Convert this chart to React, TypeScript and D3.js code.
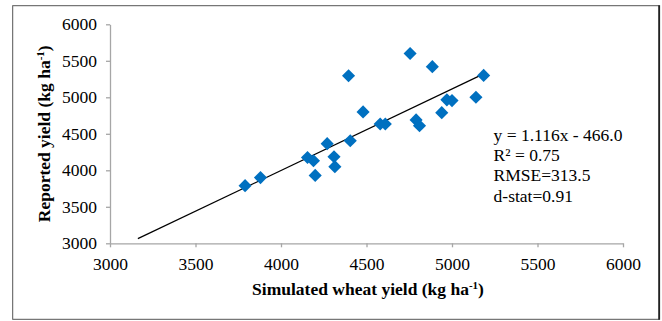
import React, { useRef, useEffect } from 'react'
import * as d3 from 'd3'

// Simulated (x) vs reported (y) wheat yield, kg/ha
const simulated = [
  3790, 3880, 4155, 4190, 4200, 4270, 4310, 4315, 4395, 4405, 4480, 4580, 4610, 4790, 4810,
  4885, 4940, 4970, 5000, 5140, 5185, 4755,
]
const reported = [
  3790, 3900, 4175, 4130, 3930, 4365, 4185, 4050, 5295, 4405, 4800, 4635, 4635, 4690, 4610,
  5420, 4790, 4965, 4955, 5000, 5300, 5600,
]
const xTicks = [3000, 3500, 4000, 4500, 5000, 5500, 6000]
const yTicks = [3000, 3500, 4000, 4500, 5000, 5500, 6000]
const trendRange = [3163, 5185]
const slope = 1.116
const intercept = -466.0
const statLines = ['y = 1.116x - 466.0', 'R² = 0.75', 'RMSE=313.5', 'd-stat=0.91']

const W = 662
const H = 321
const FONT = '"Liberation Serif", "Times New Roman", serif'

const App: React.FC = () => {
  const svgRef = useRef<SVGSVGElement>(null)

  useEffect(() => {
    if (!svgRef.current) return
    const svg = d3.select(svgRef.current)
    svg.selectAll('*').remove()

    // outer frame
    svg
      .append('rect')
      .attr('x', 12.7)
      .attr('y', 5.7)
      .attr('width', 646.4)
      .attr('height', 313.6)
      .attr('fill', '#fff')
      .attr('stroke', '#555')
      .attr('stroke-width', 1)
    svg
      .append('line')
      .attr('x1', 659.2)
      .attr('x2', 659.2)
      .attr('y1', 5.2)
      .attr('y2', 319.8)
      .attr('stroke', '#222')
      .attr('stroke-width', 1.8)

    const x = d3.scaleLinear().domain([3000, 6000]).range([110, 623])
    const y = d3.scaleLinear().domain([3000, 6000]).range([243.3, 24.3])

    // axes
    const xAxis = svg
      .append('g')
      .attr('transform', `translate(0, ${y(3000)})`)
      .call(d3.axisBottom(x).tickValues(xTicks).tickSize(4).tickSizeOuter(0).tickPadding(10).tickFormat(d3.format('d')))
    const yAxis = svg
      .append('g')
      .attr('transform', `translate(${x(3000)}, 0)`)
      .call(d3.axisLeft(y).tickValues(yTicks).tickSize(4).tickSizeOuter(0).tickPadding(9).tickFormat(d3.format('d')))

    ;[xAxis, yAxis].forEach(a => {
      a.selectAll('.domain').attr('stroke', '#a6a6a6').attr('stroke-width', 1.3)
      a.selectAll('.tick line').attr('stroke', '#a6a6a6').attr('stroke-width', 1.3)
      a.selectAll('text').style('font-family', FONT).style('font-size', '17.5px').attr('fill', '#000')
    })

    // trendline
    svg
      .append('line')
      .attr('x1', x(trendRange[0]))
      .attr('y1', y(slope * trendRange[0] + intercept))
      .attr('x2', x(trendRange[1]))
      .attr('y2', y(slope * trendRange[1] + intercept))
      .attr('stroke', '#000')
      .attr('stroke-width', 1.2)

    // diamond markers
    const diamond = d3.symbol().type(d3.symbolSquare).size(86)
    svg
      .append('g')
      .selectAll('path')
      .data(simulated.map((s, i) => ({ s, r: reported[i] })))
      .enter()
      .append('path')
      .attr('d', diamond)
      .attr('transform', d => `translate(${x(d.s)}, ${y(d.r)}) rotate(45)`)
      .attr('fill', '#0070c0')

    // stats text
    const stats = svg
      .append('text')
      .attr('x', 493.6)
      .attr('y', 140.7)
      .style('font-family', FONT)
      .style('font-size', '17.5px')
      .attr('fill', '#000')
    statLines.forEach((t, i) => {
      stats
        .append('tspan')
        .attr('x', 493.6)
        .attr('dy', i === 0 ? 0 : 20.3)
        .text(t)
    })

    // axis titles
    const xLabel = svg
      .append('text')
      .attr('x', 368)
      .attr('y', 295)
      .attr('text-anchor', 'middle')
      .style('font-family', FONT)
      .style('font-size', '17.5px')
      .style('font-weight', 'bold')
    xLabel.append('tspan').text('Simulated wheat yield (kg ha')
    xLabel.append('tspan').attr('dy', -6).style('font-size', '11px').text('-1')
    xLabel.append('tspan').attr('dy', 6).text(')')

    const yLabel = svg
      .append('text')
      .attr('transform', `translate(49.5, 133.8) rotate(-90)`)
      .attr('text-anchor', 'middle')
      .style('font-family', FONT)
      .style('font-size', '17.5px')
      .style('font-weight', 'bold')
    yLabel.append('tspan').text('Reported yield (kg ha')
    yLabel.append('tspan').attr('dy', -6).style('font-size', '11px').text('-1')
    yLabel.append('tspan').attr('dy', 6).text(')')
  }, [])

  return (
    <div style={{ position: 'absolute', left: 0, top: 0 }}>
      <svg ref={svgRef} width={W} height={H} style={{ display: 'block', background: '#fff' }} />
    </div>
  )
}

export default App
